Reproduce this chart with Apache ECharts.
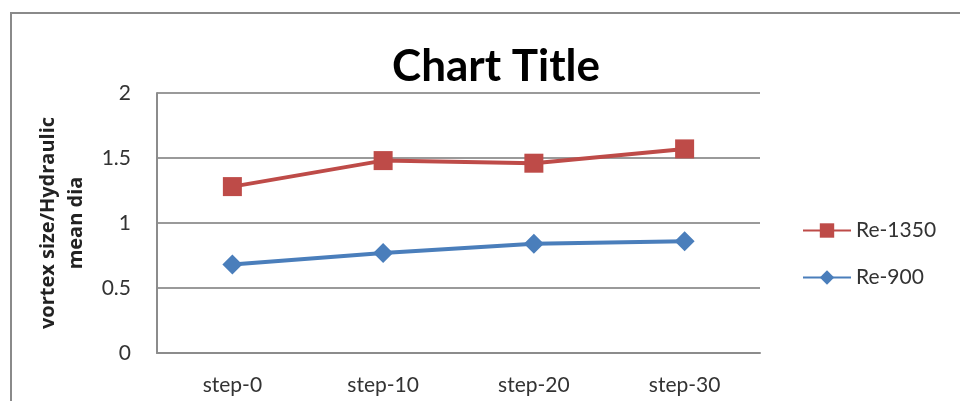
<!DOCTYPE html>
<html>
<head>
<meta charset="utf-8">
<script src="https://cdn.jsdelivr.net/npm/echarts@6/dist/echarts.min.js"></script>
<style>
  html, body { margin: 0; padding: 0; background: #fff; }
  #chart { width: 960px; height: 401px; }
</style>
</head>
<body>
<div id="chart"></div>
<script>
const categories = ['step-0', 'step-10', 'step-20', 'step-30'];
const re1350 = [1.28, 1.48, 1.46, 1.57];
const re900 = [0.68, 0.77, 0.84, 0.86];
const yTicks = [0, 0.5, 1, 1.5, 2];

const chartDom = document.getElementById('chart');
let myChart = echarts.init(chartDom);
const font = 'Lato, "Open Sans", sans-serif';
let option = {
  backgroundColor: '#fff',
  textStyle: { fontFamily: font },
  graphic: [{
    type: 'rect',
    shape: { x: 11, y: 13, width: 980, height: 420 },
    style: { fill: 'none', stroke: '#8a8a8a', lineWidth: 2 },
    silent: true
  }],
  title: {
    text: 'Chart Title',
    left: 491,
    textAlign: 'center',
    top: 40,
    textStyle: { fontSize: 44, fontWeight: 'bold', color: '#000', fontFamily: font }
  },
  legend: {
    orient: 'vertical',
    left: 797,
    top: 215,
    itemGap: 26,
    itemWidth: 48,
    itemHeight: 18,
    textStyle: { fontSize: 21, color: '#333', fontFamily: font },
    data: ['Re-1350', 'Re-900']
  },
  grid: { left: 157, right: 200, top: 93, bottom: 48 },
  xAxis: {
    type: 'category',
    data: categories,
    axisTick: { show: false },
    axisLine: { lineStyle: { color: '#8c8c8c', width: 2 } },
    axisLabel: { fontSize: 21, color: '#333', margin: 22, fontFamily: font }
  },
  yAxis: {
    type: 'value',
    min: 0,
    max: 2,
    interval: 0.5,
    name: 'vortex size/Hydraulic\nmean dia',
    nameLocation: 'middle',
    nameGap: 67,
    nameRotate: 90,
    nameTextStyle: { fontSize: 20, fontWeight: 'bold', color: '#222', lineHeight: 28, fontFamily: '"Open Sans", sans-serif' },
    axisLine: { show: true, lineStyle: { color: '#8c8c8c', width: 2 } },
    axisTick: { show: false },
    axisLabel: {
      fontSize: 21, color: '#333', margin: 26, fontFamily: font,
      formatter: v => yTicks.includes(v) ? String(v) : ''
    },
    splitLine: { lineStyle: { color: '#9a9a9a', width: 2 } }
  },
  series: [
    {
      name: 'Re-1350',
      type: 'line',
      data: re1350,
      symbol: 'rect',
      symbolSize: 19,
      color: '#BE4B48',
      lineStyle: { width: 4, color: '#BE4B48' },
      itemStyle: { color: '#BE4B48' }
    },
    {
      name: 'Re-900',
      type: 'line',
      data: re900,
      symbol: 'diamond',
      symbolSize: 20,
      color: '#4A7EBB',
      lineStyle: { width: 4, color: '#4A7EBB' },
      itemStyle: { color: '#4A7EBB' }
    }
  ]
};
option && myChart.setOption(option);
</script>
</body>
</html>
